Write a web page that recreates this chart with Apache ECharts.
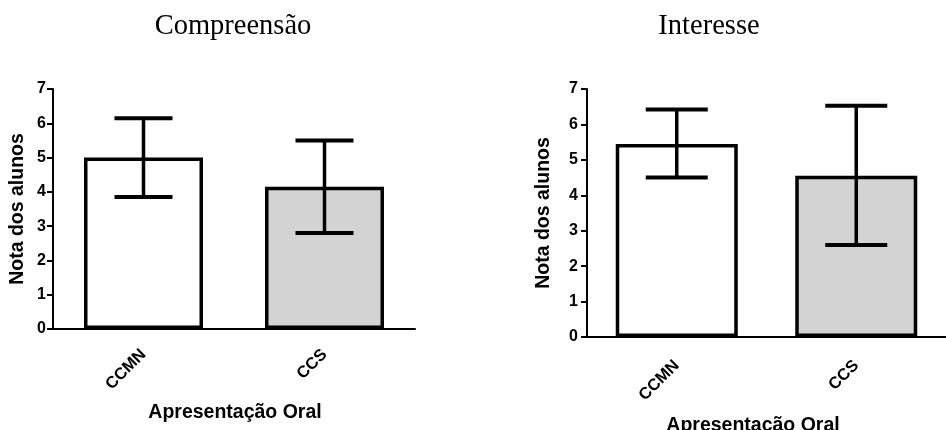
<!DOCTYPE html>
<html>
<head>
<meta charset="utf-8">
<script src="https://cdn.jsdelivr.net/npm/echarts@6/dist/echarts.min.js"></script>
<style>
  html, body { margin: 0; padding: 0; background: #fff; }
  #chart { width: 946px; height: 430px; }
</style>
</head>
<body>
<div id="chart"></div>
<script>
// Categories and values (mean with lower/upper error limits)
const categories = ['CCMN', 'CCS'];
const barColors = ['#ffffff', '#d3d3d3'];

const compMean = [5.0, 4.15];
const compLow = [3.85, 2.8];
const compHigh = [6.15, 5.5];

const intMean = [5.45, 4.55];
const intLow = [4.5, 2.6];
const intHigh = [6.42, 6.53];

const yTicks = [0, 1, 2, 3, 4, 5, 6, 7];

const sans = 'Liberation Sans, Arial, sans-serif';
const serif = 'Liberation Serif, Times New Roman, serif';

function barData(means) {
  return means.map((v, i) => ({
    value: v,
    itemStyle: { color: barColors[i], borderColor: '#000', borderWidth: 3.5 }
  }));
}

function errData(low, high) {
  return categories.map((c, i) => [i, low[i], high[i]]);
}

function errorBarRenderer(capHalf) {
  return function (params, api) {
    const x = api.value(0);
    const lo = api.coord([x, api.value(1)]);
    const hi = api.coord([x, api.value(2)]);
    const stem = { stroke: '#000', lineWidth: 3.5, fill: null };
    const cap = { stroke: '#000', lineWidth: 4, fill: null };
    return {
      type: 'group',
      children: [
        { type: 'line', shape: { x1: lo[0], y1: lo[1], x2: hi[0], y2: hi[1] }, style: stem },
        { type: 'line', shape: { x1: hi[0] - capHalf, y1: hi[1], x2: hi[0] + capHalf, y2: hi[1] }, style: cap },
        { type: 'line', shape: { x1: lo[0] - capHalf, y1: lo[1], x2: lo[0] + capHalf, y2: lo[1] }, style: cap }
      ]
    };
  };
}

function xAxisCfg(gridIndex, labelMargin) {
  return {
    type: 'category',
    gridIndex,
    data: categories,
    axisLine: { lineStyle: { color: '#000', width: 2 } },
    axisTick: { alignWithLabel: true, length: 6, lineStyle: { color: '#000', width: 2 } },
    axisLabel: {
      rotate: 45, margin: labelMargin, color: '#000',
      fontFamily: sans, fontWeight: 'bold', fontSize: 16.5
    }
  };
}

function yAxisCfg(gridIndex, nameGap, labelMargin) {
  return {
    type: 'value',
    gridIndex,
    min: yTicks[0],
    max: yTicks[yTicks.length - 1],
    interval: 1,
    name: 'Nota dos alunos',
    nameLocation: 'middle',
    nameGap,
    nameTextStyle: { color: '#000', fontFamily: sans, fontWeight: 'bold', fontSize: 19.5 },
    splitLine: { show: false },
    axisLine: { show: true, lineStyle: { color: '#000', width: 2 } },
    axisTick: { show: true, length: 6, lineStyle: { color: '#000', width: 2 } },
    axisLabel: { margin: labelMargin, color: '#000', fontFamily: sans, fontWeight: 'bold', fontSize: 16 }
  };
}

const chart = echarts.init(document.getElementById('chart'), null, { renderer: 'canvas' });

chart.setOption({
  animation: false,
  backgroundColor: '#fff',
  title: [
    { text: 'Compreensão', left: 228, top: 7, textAlign: 'center',
      textStyle: { fontFamily: serif, fontWeight: 'normal', fontSize: 28.5, color: '#000' } },
    { text: 'Interesse', left: 704, top: 7, textAlign: 'center',
      textStyle: { fontFamily: serif, fontWeight: 'normal', fontSize: 28.5, color: '#000' } },
    { text: 'Apresentação Oral', left: 230, top: 398, textAlign: 'center',
      textStyle: { fontFamily: sans, fontWeight: 'bold', fontSize: 19.5, color: '#000' } },
    { text: 'Apresentação Oral', left: 748, top: 411, textAlign: 'center',
      textStyle: { fontFamily: sans, fontWeight: 'bold', fontSize: 19.5, color: '#000' } }
  ],
  grid: [
    { left: 53, top: 89, width: 362, height: 240 },
    { left: 587, top: 89, width: 372, height: 248 }
  ],
  xAxis: [xAxisCfg(0, 23), xAxisCfg(1, 26)],
  yAxis: [yAxisCfg(0, 25, 7), yAxisCfg(1, 33, 9)],
  series: [
    { type: 'bar', xAxisIndex: 0, yAxisIndex: 0, barWidth: 119, data: barData(compMean) },
    { type: 'custom', xAxisIndex: 0, yAxisIndex: 0, renderItem: errorBarRenderer(29),
      data: errData(compLow, compHigh), z: 10 },
    { type: 'bar', xAxisIndex: 1, yAxisIndex: 1, barWidth: 122, data: barData(intMean) },
    { type: 'custom', xAxisIndex: 1, yAxisIndex: 1, renderItem: errorBarRenderer(31),
      data: errData(intLow, intHigh), z: 10 }
  ]
});
</script>
</body>
</html>
